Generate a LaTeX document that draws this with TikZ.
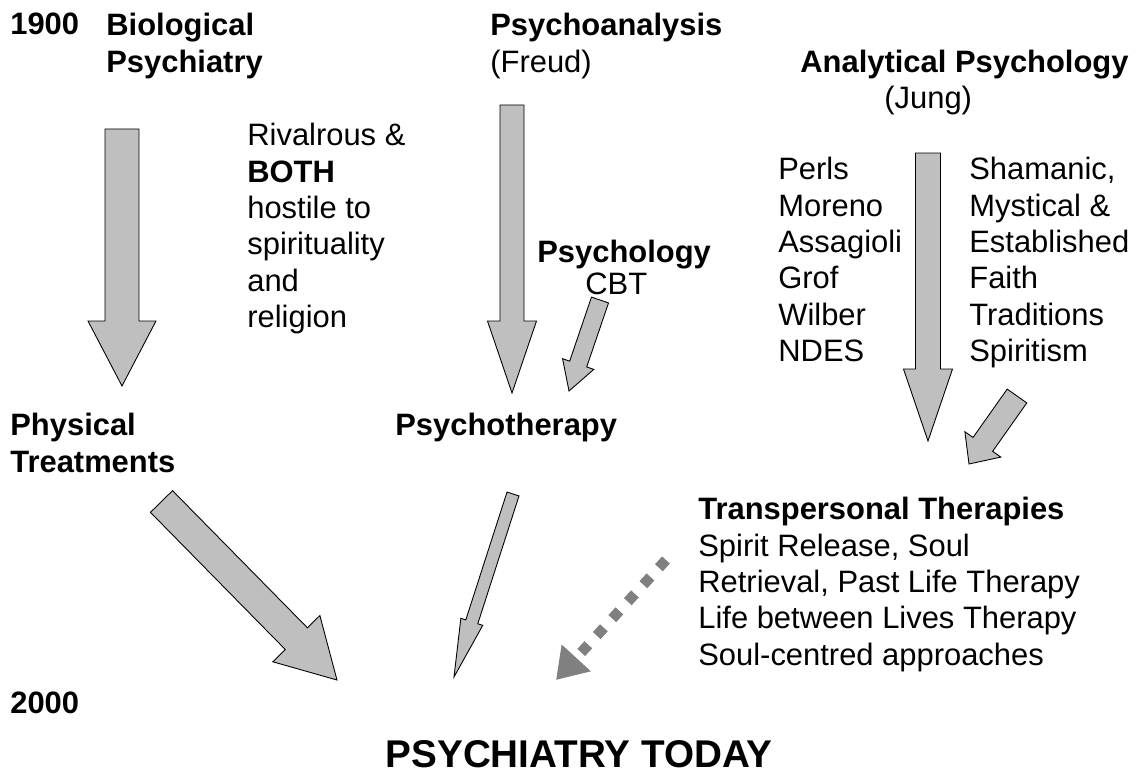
\documentclass[tikz,border=0pt]{standalone}
\usepackage{fontspec}
\setmainfont{Liberation Sans}
\usetikzlibrary{calc,arrows.meta}

% wide grey arrow: tail, tip, half shaft, half head, head length
\newcommand{\blockarrow}[5]{%
  \coordinate (hb) at ($(#2)!#5!(#1)$);
  \draw [blockarr] ($(#1)!#3!90:(#2)$) -- ($(hb)!#3!90:(#2)$) -- ($(hb)!#4!90:(#2)$)
    -- (#2) -- ($(hb)!#4!-90:(#2)$) -- ($(hb)!#3!-90:(#2)$) -- ($(#1)!#3!-90:(#2)$) -- cycle;
}

\tikzset{
  txt/.style={font=\fontsize{17.6}{20.7}\selectfont, align=left, inner sep=0pt, anchor=north west},
  bold/.style={txt, font=\fontsize{17.6}{20.7}\selectfont\bfseries},
  blockarr/.style={draw=black, line width=0.5pt, fill=black!25, line join=miter},
  dotarr/.style={draw=black!50, line width=0.21cm, dash pattern=on 0.21cm off 0.25cm,
    -{Triangle[width=0.75cm,length=0.6cm]}}
}

\begin{document}
\begin{tikzpicture}[x=0.02cm, y=-0.02cm]
    \useasboundingbox (0,0) rectangle (1146,777);
    \node [bold] (y1900) at (10,13) {1900};
    \node [bold] (biopsy) at (106,13) {Biological\\Psychiatry};
    \node [txt] (freud) at (490,13) {\textbf{Psychoanalysis}\\(Freud)};
    \node [bold] (analyt) at (800,50) {Analytical Psychology};
    \node [txt] (jung) at (884,86) {(Jung)};
    \node [txt] (rival) at (247,123) {Rivalrous \&\\\textbf{BOTH}\\hostile to\\spirituality\\and\\religion};
    \node [bold] (psychol) at (537,240) {Psychology};
    \node [txt] (cbt) at (585,273) {CBT};
    \node [txt] (names) at (778,157) {Perls\\Moreno\\Assagioli\\Grof\\Wilber\\NDES};
    \node [txt] (faiths) at (969,157) {Shamanic,\\Mystical \&\\Established\\Faith\\Traditions\\Spiritism};
    \node [bold] (phys) at (10,413) {Physical\\Treatments};
    \node [bold] (therapy) at (395,413) {Psychotherapy};
    \node [txt] (transp) at (698,497) {\textbf{Transpersonal Therapies}\\Spirit Release, Soul\\Retrieval, Past Life Therapy\\Life between Lives Therapy\\Soul-centred approaches};
    \node [bold] (y2000) at (10,692) {2000};
    \node [bold, anchor=north, font=\fontsize{22}{25}\selectfont\bfseries] (today) at (579,740) {PSYCHIATRY TODAY};
    % arrow ends
    \coordinate (bio-t) at (122,129);
    \coordinate (bio-h) at (122,386);
    \coordinate (freud-t) at (512,105);
    \coordinate (freud-h) at (512,393);
    \coordinate (cbt-t) at (600,300);
    \coordinate (cbt-h) at (569,391);
    \coordinate (jung-t) at (928,153);
    \coordinate (jung-h) at (928,441);
    \coordinate (spirit-t) at (1017,396);
    \coordinate (spirit-h) at (969,464);
    \coordinate (phys-t) at (161.5,501.5);
    \coordinate (phys-h) at (337,680);
    \coordinate (therapy-t) at (513,494);
    \coordinate (therapy-h) at (454,677);
    \coordinate (transp-t) at (666,560);
    \coordinate (transp-h) at (556,680);
    \blockarrow{bio-t}{bio-h}{0.34cm}{0.68cm}{1.30cm}
    \blockarrow{freud-t}{freud-h}{0.24cm}{0.49cm}{1.44cm}
    \blockarrow{cbt-t}{cbt-h}{0.18cm}{0.33cm}{0.57cm}
    \blockarrow{jung-t}{jung-h}{0.25cm}{0.49cm}{1.44cm}
    \blockarrow{spirit-t}{spirit-h}{0.24cm}{0.44cm}{0.48cm}
    \blockarrow{phys-t}{phys-h}{0.31cm}{0.66cm}{1.16cm}
    \blockarrow{therapy-t}{therapy-h}{0.126cm}{0.23cm}{1.16cm}
    \draw [dotarr] (transp-t) -- (transp-h);
\end{tikzpicture}
\end{document}
